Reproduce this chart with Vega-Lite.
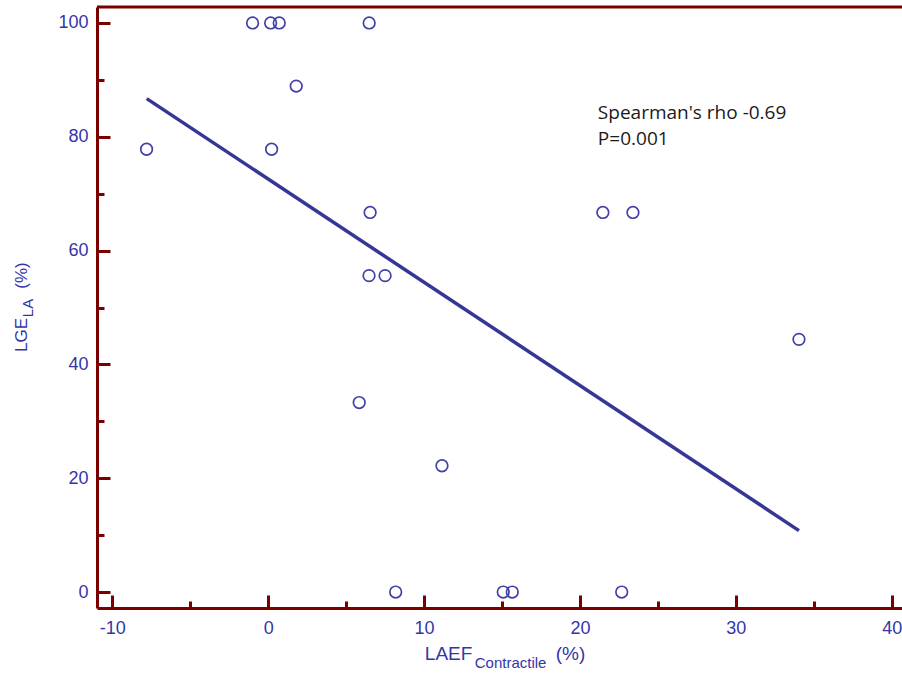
{
  "$schema": "https://vega.github.io/schema/vega-lite/v6.json",
  "width": 805,
  "height": 601,
  "autosize": {"type": "none"},
  "padding": {"left": 97, "top": 7, "right": 0, "bottom": 69},
  "background": "white",
  "config": {"view": {"stroke": null}},
  "datasets": {
    "pts": [
      {"laef": -7.8, "lge": 77.8},
      {"laef": -1.0, "lge": 100},
      {"laef": 0.16, "lge": 100},
      {"laef": 0.71, "lge": 100},
      {"laef": 6.48, "lge": 100},
      {"laef": 1.8, "lge": 88.9},
      {"laef": 0.22, "lge": 77.8},
      {"laef": 6.54, "lge": 66.7},
      {"laef": 6.47, "lge": 55.6},
      {"laef": 7.5, "lge": 55.6},
      {"laef": 5.84, "lge": 33.3},
      {"laef": 11.15, "lge": 22.2},
      {"laef": 8.18, "lge": 0},
      {"laef": 15.08, "lge": 0},
      {"laef": 15.66, "lge": 0},
      {"laef": 22.68, "lge": 0},
      {"laef": 21.47, "lge": 66.7},
      {"laef": 23.4, "lge": 66.7},
      {"laef": 34.05, "lge": 44.4}
    ],
    "fit": [
      {"laef": -7.79, "lge": 86.7},
      {"laef": 34.05, "lge": 10.8}
    ],
    "one": [{}]
  },
  "layer": [
    {
      "data": {"name": "pts"},
      "mark": {"type": "point", "shape": "circle", "filled": false, "size": 135, "strokeWidth": 1.7, "opacity": 1, "color": "#4040a8", "clip": false},
      "encoding": {
        "x": {
          "field": "laef", "type": "quantitative",
          "scale": {"domain": [-10.98, 40.66], "nice": false, "zero": false},
          "axis": {
            "title": null,
            "orient": "bottom",
            "values": [-10, -5, 0, 5, 10, 15, 20, 25, 30, 35, 40],
            "labelExpr": "datum.value % 10 === 0 ? toString(datum.value) : ''",
            "grid": false,
            "domainColor": "#7a0000",
            "domainWidth": 3,
            "tickColor": "#7a0000",
            "tickWidth": 3,
            "tickSize": {"condition": {"test": "datum.value % 10 === 0", "value": -13}, "value": -7},
            "labelFont": "Liberation Sans",
            "labelFontSize": 18,
            "labelColor": "#3535a8",
            "labelPadding": 24,
            "labelFlush": false
          }
        },
        "y": {
          "field": "lge", "type": "quantitative",
          "scale": {"domain": [-2.8, 102.8], "nice": false, "zero": false},
          "axis": {
            "title": null,
            "values": [0, 10, 20, 30, 40, 50, 60, 70, 80, 90, 100],
            "labelExpr": "datum.value % 20 === 0 ? toString(datum.value) : ''",
            "grid": false,
            "domainColor": "#7a0000",
            "domainWidth": 3,
            "tickColor": "#7a0000",
            "tickWidth": 3,
            "tickSize": {"condition": {"test": "datum.value % 20 === 0", "value": -13}, "value": -7},
            "labelFont": "Liberation Sans",
            "labelFontSize": 18,
            "labelColor": "#3535a8",
            "labelPadding": 22,
            "labelFlush": false
          }
        }
      }
    },
    {
      "data": {"name": "fit"},
      "mark": {"type": "line", "color": "#363696", "strokeWidth": 3.5},
      "encoding": {
        "x": {"field": "laef", "type": "quantitative"},
        "y": {"field": "lge", "type": "quantitative"}
      }
    },
    {
      "data": {"name": "one"},
      "mark": {"type": "rule", "color": "#7a0000", "strokeWidth": 3, "clip": false},
      "encoding": {"y": {"datum": 102.8}}
    },
    {
      "data": {"name": "one"},
      "mark": {"type": "text", "align": "left", "baseline": "alphabetic", "font": "Open Sans", "fontSize": 19, "color": "#1a1a1a"},
      "encoding": {"x": {"datum": 21.15}, "y": {"datum": 83.2}, "text": {"value": "Spearman's rho -0.69"}}
    },
    {
      "data": {"name": "one"},
      "mark": {"type": "text", "align": "left", "baseline": "alphabetic", "font": "Open Sans", "fontSize": 19, "color": "#1a1a1a"},
      "encoding": {"x": {"datum": 21.15}, "y": {"datum": 78.5}, "text": {"value": "P=0.001"}}
    },
    {
      "data": {"name": "one"},
      "mark": {"type": "text", "align": "left", "baseline": "alphabetic", "font": "Liberation Sans", "fontSize": 19, "color": "#3535a8", "clip": false},
      "encoding": {"x": {"datum": 10.05}, "y": {"datum": -11.9}, "text": {"value": "LAEF"}}
    },
    {
      "data": {"name": "one"},
      "mark": {"type": "text", "align": "left", "baseline": "alphabetic", "font": "Liberation Sans", "fontSize": 15, "color": "#3535a8"},
      "encoding": {"x": {"datum": 13.25}, "y": {"datum": -13.3}, "text": {"value": "Contractile"}}
    },
    {
      "data": {"name": "one"},
      "mark": {"type": "text", "align": "left", "baseline": "alphabetic", "font": "Liberation Sans", "fontSize": 19, "color": "#3535a8"},
      "encoding": {"x": {"datum": 18.45}, "y": {"datum": -11.9}, "text": {"value": "(%)"}}
    },
    {
      "data": {"name": "one"},
      "mark": {"type": "text", "align": "left", "baseline": "alphabetic", "angle": 270, "font": "Liberation Sans", "fontSize": 17, "color": "#3535a8"},
      "encoding": {"x": {"datum": -15.47}, "y": {"datum": 42.2}, "text": {"value": "LGE"}}
    },
    {
      "data": {"name": "one"},
      "mark": {"type": "text", "align": "left", "baseline": "alphabetic", "angle": 270, "font": "Liberation Sans", "fontSize": 15, "color": "#3535a8"},
      "encoding": {"x": {"datum": -15.08}, "y": {"datum": 48.3}, "text": {"value": "LA"}}
    },
    {
      "data": {"name": "one"},
      "mark": {"type": "text", "align": "left", "baseline": "alphabetic", "angle": 270, "font": "Liberation Sans", "fontSize": 17, "color": "#3535a8"},
      "encoding": {"x": {"datum": -15.47}, "y": {"datum": 53.3}, "text": {"value": "(%)"}}
    }
  ]
}
